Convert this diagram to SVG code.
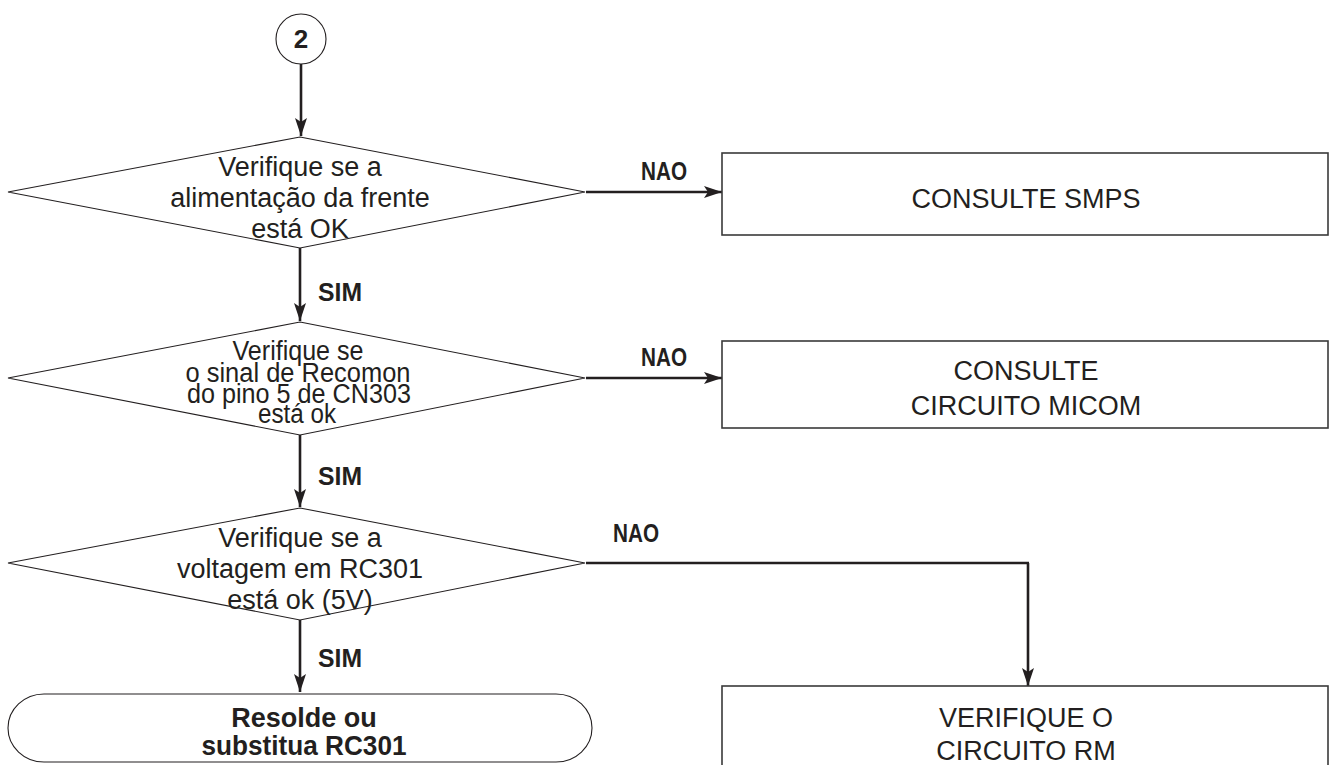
<svg xmlns="http://www.w3.org/2000/svg" width="1330" height="765" viewBox="0 0 1330 765">
  <style>
    .shape { fill: #fff; stroke: #231f20; stroke-width: 1.1; }
    .box { fill: #fff; stroke: #3a3a3a; stroke-width: 1.6; }
    .txt { font-family: "Liberation Sans", Arial, sans-serif; font-size: 27px; fill: #231f20; text-anchor: middle; }
    .bold { font-weight: bold; }
    .lbl { font-family: "Liberation Sans", Arial, sans-serif; font-size: 25px; font-weight: bold; fill: #231f20; }
    .conn { fill: none; stroke: #231f20; stroke-width: 2.6; }
  </style>
  <defs>
    <marker id="arrow" markerWidth="18" markerHeight="12" refX="18" refY="6" orient="auto" markerUnits="userSpaceOnUse" viewBox="0 0 18 12">
      <path d="M0,0 L18,6 L0,12 L4,6 Z" fill="#231f20"/>
    </marker>
  </defs>
  <rect width="1330" height="765" fill="#fff"/>

  <g id="connectors">
    <path class="conn" d="M301,64 V136" marker-end="url(#arrow)"/>
    <path class="conn" d="M300,248 V321" marker-end="url(#arrow)"/>
    <path class="conn" d="M300,435 V507" marker-end="url(#arrow)"/>
    <path class="conn" d="M300,620 V692" marker-end="url(#arrow)"/>
    <path class="conn" d="M586,192 H722" marker-end="url(#arrow)"/>
    <path class="conn" d="M586,378 H722" marker-end="url(#arrow)"/>
    <path class="conn" d="M586,563 H1029"/>
    <path class="conn" d="M1028,563 V686" stroke-width="2" marker-end="url(#arrow)"/>
    <text class="lbl" x="318" y="301" textLength="44" lengthAdjust="spacingAndGlyphs">SIM</text>
    <text class="lbl" x="318" y="485" textLength="44" lengthAdjust="spacingAndGlyphs">SIM</text>
    <text class="lbl" x="318" y="667" textLength="44" lengthAdjust="spacingAndGlyphs">SIM</text>
    <text class="lbl" x="641" y="180" textLength="46" lengthAdjust="spacingAndGlyphs">NAO</text>
    <text class="lbl" x="641" y="366" textLength="46" lengthAdjust="spacingAndGlyphs">NAO</text>
    <text class="lbl" x="613" y="542" textLength="46" lengthAdjust="spacingAndGlyphs">NAO</text>
  </g>

  <g id="start">
    <circle class="shape" cx="301" cy="39" r="25"/>
    <text class="txt bold" x="301" y="48" style="font-size:26px">2</text>
  </g>

  <g id="check-power">
    <polygon class="shape" points="300,137 585,192 300,248 8,192"/>
    <text class="txt" x="300" y="176">Verifique se a</text>
    <text class="txt" x="300" y="207">alimentação da frente</text>
    <text class="txt" x="300" y="238">está OK</text>
  </g>

  <g id="check-recomon">
    <polygon class="shape" points="300,322 585,378 300,435 8,378"/>
    <!-- tightly packed four-line label, horizontally condensed -->
    <g class="txt" style="font-size:27px">
      <text x="298" y="360" textLength="131" lengthAdjust="spacingAndGlyphs">Verifique se</text>
      <text x="298" y="382" textLength="225" lengthAdjust="spacingAndGlyphs">o sinal de Recomon</text>
      <text x="299" y="403" textLength="224" lengthAdjust="spacingAndGlyphs">do pino 5 de CN303</text>
      <text x="297" y="423" textLength="78" lengthAdjust="spacingAndGlyphs">está ok</text>
    </g>
  </g>

  <g id="check-voltage">
    <polygon class="shape" points="300,508 585,563 300,620 8,563"/>
    <text class="txt" x="300" y="547">Verifique se a</text>
    <text class="txt" x="300" y="578">voltagem em RC301</text>
    <text class="txt" x="300" y="609">está ok (5V)</text>
  </g>

  <g id="smps">
    <rect class="box" x="722" y="153" width="606" height="82"/>
    <text class="txt" x="1026" y="208">CONSULTE SMPS</text>
  </g>

  <g id="micom">
    <rect class="box" x="722" y="341" width="606" height="87"/>
    <text class="txt" x="1026" y="380">CONSULTE</text>
    <text class="txt" x="1026" y="415">CIRCUITO MICOM</text>
  </g>

  <g id="rm-circuit">
    <rect class="box" x="722" y="686" width="606" height="90"/>
    <text class="txt" x="1026" y="727">VERIFIQUE O</text>
    <text class="txt" x="1026" y="760">CIRCUITO RM</text>
  </g>

  <g id="replace-rc301">
    <rect class="shape" x="8" y="694" width="584" height="68" rx="36" ry="34"/>
    <text class="txt bold" x="304" y="727">Resolde ou</text>
    <text class="txt bold" x="304" y="755" textLength="205" lengthAdjust="spacingAndGlyphs">substitua RC301</text>
  </g>
</svg>
